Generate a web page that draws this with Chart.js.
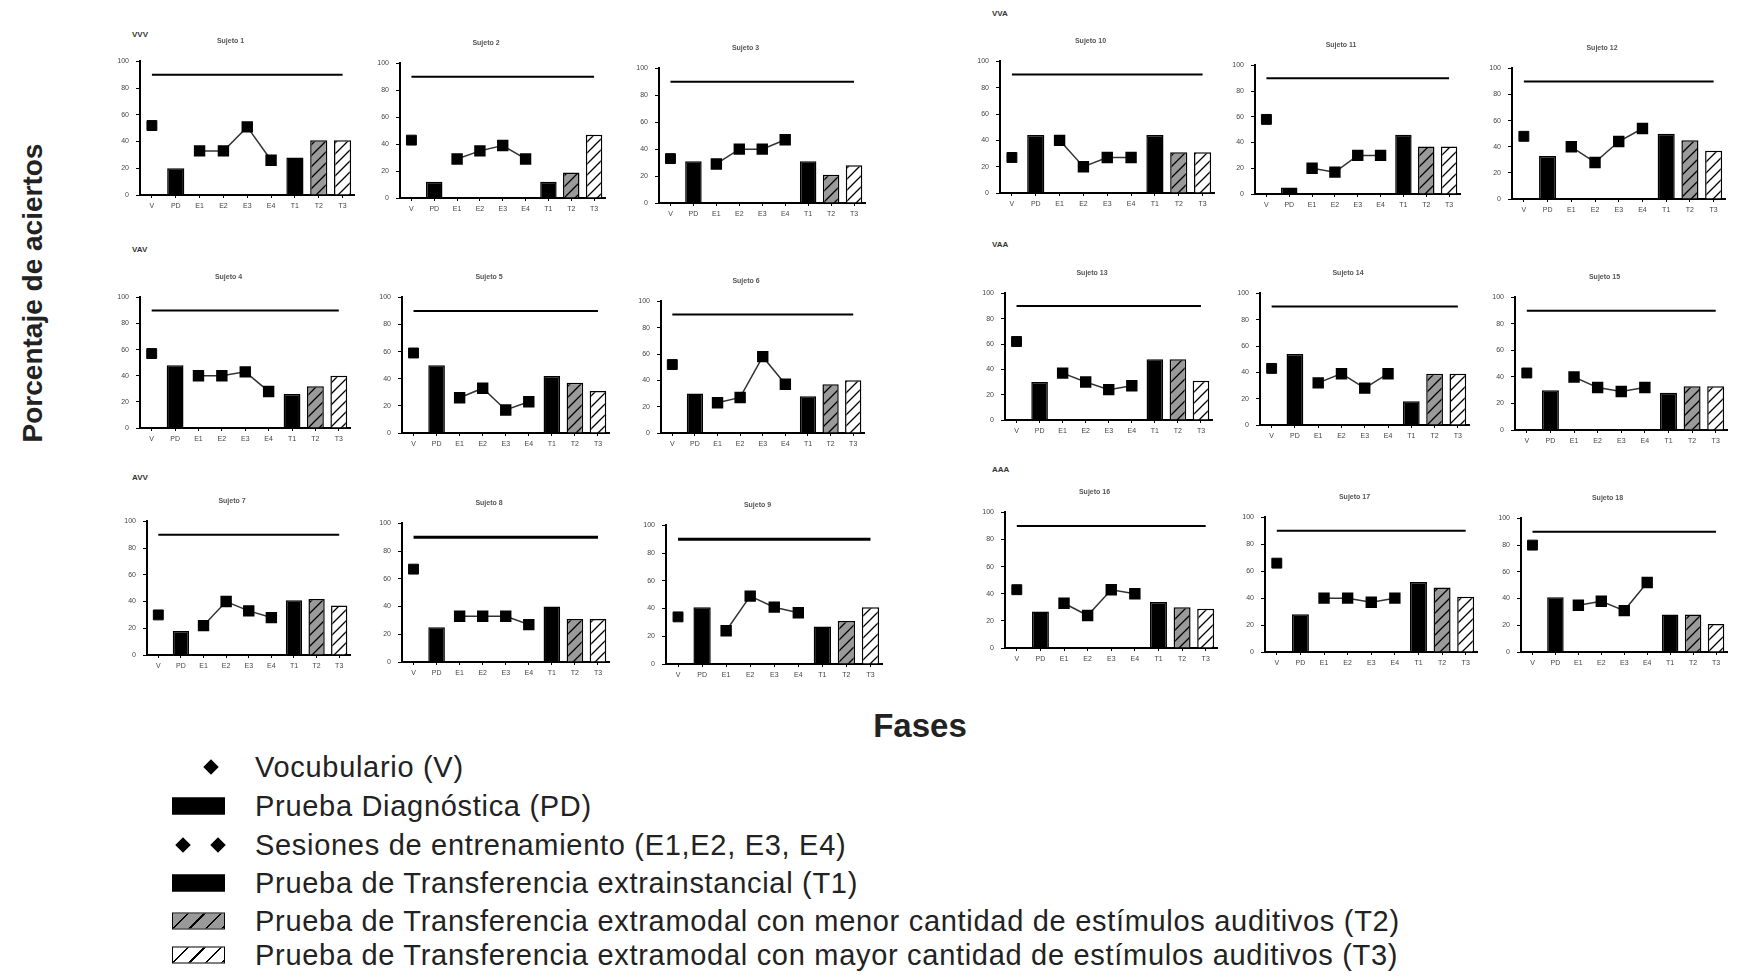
<!DOCTYPE html>
<html>
<head>
<meta charset="utf-8">
<script src="https://cdn.jsdelivr.net/npm/chart.js@4.4.1/dist/chart.umd.min.js"></script>
<style>
  body { margin: 0; background: #fff; width: 1738px; height: 977px; position: relative; overflow: hidden;
         font-family: "Liberation Sans", Arial, sans-serif; }
  canvas { position: absolute; }
  .grp { position: absolute; font-size: 8px; font-weight: bold; color: #333; }
  .ylab { position: absolute; left: 33px; top: 293px; transform: translate(-50%, -50%) rotate(-90deg);
          font-size: 28px; font-weight: bold; color: #222; white-space: nowrap; }
  .xlab { position: absolute; left: 920px; top: 726px; transform: translate(-50%, -50%);
          font-size: 33px; font-weight: bold; color: #222; }
  .leg { position: absolute; left: 255px; font-size: 29px; letter-spacing: 0.7px; line-height: 32px;
         color: #222; white-space: nowrap; }
  .sym { position: absolute; }
  .dia { width: 11px; height: 11px; background: #000; transform: translate(-50%, -50%) rotate(45deg); }
  .box { width: 51px; height: 15px; border: 1px solid #000; transform: translateY(-50%); }
</style>
</head>
<body>
<div class="ylab">Porcentaje de aciertos</div>
<div class="xlab">Fases</div>

<script>
// fases del eje x
const phases = ['V', 'PD', 'E1', 'E2', 'E3', 'E4', 'T1', 'T2', 'T3'];
const subjects = ['Sujeto 1', 'Sujeto 2', 'Sujeto 3', 'Sujeto 4', 'Sujeto 5', 'Sujeto 6',
                  'Sujeto 7', 'Sujeto 8', 'Sujeto 9', 'Sujeto 10', 'Sujeto 11', 'Sujeto 12',
                  'Sujeto 13', 'Sujeto 14', 'Sujeto 15', 'Sujeto 16', 'Sujeto 17', 'Sujeto 18'];
const groups = ['VVV', 'VAV', 'AVV', 'VVA', 'VAA', 'AAA'];

// porcentaje de aciertos por sujeto
const vocab = [52, 43, 33, 57, 59, 52, 30, 67, 34, 27, 58, 48, 62, 43, 43, 43, 66, 80];
const diag  = [20, 12, 31, 48, 50, 30, 18, 25, 41, 44, 5, 33, 30, 54, 30, 27, 28, 41];
const sessions = [
    [33, 33, 51, 26], [29, 35, 39, 29], [29, 40, 40, 47],
    [40, 40, 43, 28], [26, 33, 17, 23], [23, 27, 58, 37],
    [22, 40, 33, 28], [33, 33, 33, 27], [24, 49, 41, 37],
    [40, 20, 27, 27], [20, 17, 30, 30], [40, 28, 44, 54],
    [37, 30, 24, 27], [32, 39, 28, 39], [40, 32, 29, 32],
    [33, 24, 43, 40], [40, 40, 37, 40], [35, 38, 31, 52]
];
const transfer1 = [28, 12, 31, 26, 42, 28, 41, 40, 27, 44, 46, 50, 48, 18, 28, 34, 52, 28];
const transfer2 = [41, 19, 21, 32, 37, 37, 42, 31, 31, 31, 37, 45, 48, 39, 33, 30, 48, 28];
const transfer3 = [41, 47, 28, 40, 31, 40, 37, 31, 41, 31, 37, 37, 31, 39, 33, 29, 41, 21];
const criterion = 90;

// posición de cada panel: [eje y, y del 100, y del 0, extremo derecho]
const panels = [
    [140, 61, 195, 357], [400, 63, 198, 608], [659, 68, 203, 868],
    [140, 297, 428, 353], [402, 297, 433, 612], [661, 301, 433, 867],
    [147, 521, 655, 353], [402, 523, 662, 612], [666, 525, 664, 885],
    [1000, 61, 193, 1217], [1255, 65, 194, 1463], [1512, 68, 199, 1728],
    [1005, 293, 420, 1215], [1260, 293, 425, 1472], [1515, 297, 430, 1730],
    [1005, 512, 648, 1220], [1265, 517, 652, 1480], [1521, 518, 652, 1730]
];
const groupPos = [[132, 35], [132, 250], [132, 478], [992, 14], [992, 245], [992, 470]];

function hatch(bg) {
    const s = 11;
    const c = document.createElement('canvas');
    c.width = c.height = s;
    const g = c.getContext('2d');
    g.fillStyle = bg;
    g.fillRect(0, 0, s, s);
    g.strokeStyle = '#000';
    g.lineWidth = 1.3;
    g.beginPath();
    g.moveTo(0, s); g.lineTo(s, 0);
    g.moveTo(-2, 2); g.lineTo(2, -2);
    g.moveTo(s - 2, s + 2); g.lineTo(s + 2, s - 2);
    g.stroke();
    return g.createPattern(c, 'repeat');
}

const greyHatch = hatch('#9a9a9a');
const whiteHatch = hatch('#ffffff');
const tickFont = { family: 'Liberation Sans', size: 7 };

groups.forEach((name, i) => {
    const d = document.createElement('div');
    d.className = 'grp';
    d.textContent = name;
    d.style.left = groupPos[i][0] + 'px';
    d.style.top = (groupPos[i][1] - 5) + 'px';
    document.body.appendChild(d);
});

subjects.forEach((subject, i) => {
    const [axisX, y100, y0, right] = panels[i];
    const titleH = 28;
    const axisH = 22;
    const axisW = 36;
    const canvas = document.createElement('canvas');
    canvas.width = right - axisX + axisW + 6;
    canvas.height = (y0 - y100) + titleH + axisH;
    canvas.style.left = (axisX - axisW) + 'px';
    canvas.style.top = (y100 - titleH) + 'px';
    document.body.appendChild(canvas);

    const s = sessions[i];
    new Chart(canvas, {
        type: 'bar',
        data: {
            labels: phases,
            datasets: [
                {
                    type: 'line',
                    data: phases.map(() => criterion),
                    borderColor: '#000',
                    borderWidth: (i === 7 || i === 8) ? 3 : 2,
                    pointRadius: 0,
                    order: 0
                },
                {
                    type: 'line',
                    data: [vocab[i], null, null, null, null, null, null, null, null],
                    showLine: false,
                    pointStyle: 'rect',
                    pointRadius: 7,
                    pointBackgroundColor: '#000',
                    pointBorderColor: '#000',
                    order: 1
                },
                {
                    type: 'line',
                    data: [null, null, s[0], s[1], s[2], s[3], null, null, null],
                    borderColor: '#333',
                    borderWidth: 1.5,
                    pointStyle: 'rect',
                    pointRadius: 7,
                    pointBackgroundColor: '#000',
                    pointBorderColor: '#000',
                    order: 1
                },
                {
                    data: [null, diag[i], null, null, null, null, transfer1[i], transfer2[i], transfer3[i]],
                    backgroundColor: ['#000', '#000', '#000', '#000', '#000', '#000', '#000', greyHatch, whiteHatch],
                    borderColor: '#000',
                    borderWidth: 1.5,
                    barPercentage: 0.72,
                    categoryPercentage: 1,
                    order: 3
                }
            ]
        },
        options: {
            responsive: false,
            animation: false,
            events: [],
            layout: { padding: { left: 0, right: 6, top: 0, bottom: 0 } },
            plugins: {
                legend: { display: false },
                tooltip: { enabled: false },
                title: {
                    display: true,
                    text: subject,
                    color: '#555',
                    font: { family: 'Liberation Sans', size: 7 },
                    padding: { top: 4, bottom: 16 }
                }
            },
            scales: {
                x: {
                    offset: true,
                    grid: { drawOnChartArea: false, offset: false, tickLength: 3, color: '#000' },
                    border: { color: '#000', width: 2 },
                    ticks: { font: tickFont, color: '#444', padding: 4, maxRotation: 0, autoSkip: false },
                    afterFit: scale => { scale.height = axisH; }
                },
                y: {
                    min: 0,
                    max: 100,
                    ticks: { stepSize: 20, font: tickFont, color: '#444', padding: 7 },
                    grid: { drawOnChartArea: false, tickLength: 4, color: '#000' },
                    border: { color: '#000', width: 2 },
                    afterFit: scale => { scale.width = axisW; }
                }
            }
        }
    });
});

// leyenda
const legendItems = [
    'Vocubulario (V)',
    'Prueba Diagnóstica (PD)',
    'Sesiones de entrenamiento (E1,E2, E3, E4)',
    'Prueba de Transferencia extrainstancial (T1)',
    'Prueba de Transferencia extramodal con menor cantidad de estímulos auditivos (T2)',
    'Prueba de Transferencia extramodal con mayor cantidad de estímulos auditivos (T3)'
];
const legendY = [767, 806, 845, 883, 921, 955];

legendItems.forEach((text, i) => {
    const t = document.createElement('div');
    t.className = 'leg';
    t.textContent = text;
    t.style.top = (legendY[i] - 16) + 'px';
    document.body.appendChild(t);
});

function addSym(cls, x, y, bg) {
    const d = document.createElement('div');
    d.className = 'sym ' + cls;
    d.style.left = x + 'px';
    d.style.top = y + 'px';
    if (bg) d.style.background = bg;
    document.body.appendChild(d);
}
addSym('dia', 211, 767);
addSym('box', 172, 806, '#000');
addSym('dia', 183, 845);
addSym('dia', 218, 845);
addSym('box', 172, 883, '#000');
addSym('box', 172, 921, 'repeating-linear-gradient(135deg, #9a9a9a 0 10px, #000 10px 11.5px)');
addSym('box', 172, 955, 'repeating-linear-gradient(135deg, #fff 0 10px, #000 10px 11.5px)');
</script>
</body>
</html>
